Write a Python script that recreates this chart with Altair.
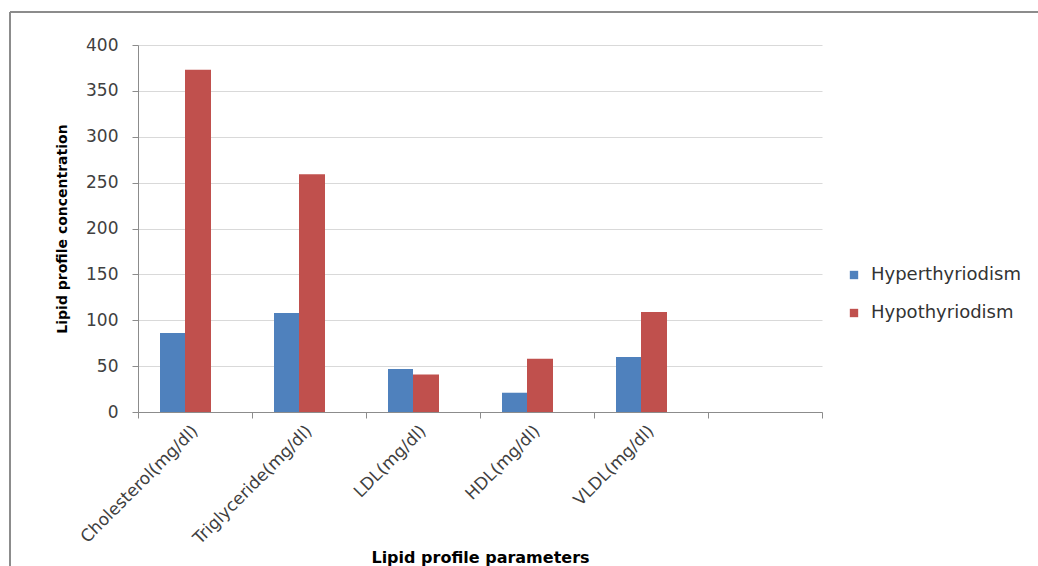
import altair as alt
import pandas as pd

categories = ["Cholesterol(mg/dl)", "Triglyceride(mg/dl)", "LDL(mg/dl)", "HDL(mg/dl)", "VLDL(mg/dl)"]
empty_slot = [" "]
series = ["Hyperthyriodism", "Hypothyriodism"]
hyper = [86, 108, 47, 21, 60]
hypo = [373, 259, 41, 58, 109]
colors = ["#4F81BD", "#C0504D"]
y_ticks = [0, 50, 100, 150, 200, 250, 300, 350, 400]

rows = []
for c, a, b in zip(categories, hyper, hypo):
    rows.append({"Parameter": c, "Group": series[0], "Value": a})
    rows.append({"Parameter": c, "Group": series[1], "Value": b})
df = pd.DataFrame(rows)

FONT = "DejaVu Sans"

x_enc = alt.X("Parameter:N", sort=None,
              scale=alt.Scale(domain=categories + empty_slot, paddingInner=0, paddingOuter=0),
              axis=alt.Axis(title="Lipid profile parameters", labelAngle=-45, labelAlign="right",
                            labelBaseline="middle", labelPadding=10, tickBand="extent",
                            labelFontSize=17, titleFontSize=16,
                            titleY=150, titleBaseline="alphabetic"))
y_enc = alt.Y("Value:Q", scale=alt.Scale(domain=[0, 400], nice=False),
              axis=alt.Axis(title="Lipid profile concentration", values=y_ticks, labelPadding=14,
                            labelFontSize=17, titleFontSize=14,
                            titleX=-76, titleBaseline="middle"))
c_enc = alt.Color("Group:N", scale=alt.Scale(domain=series, range=colors),
                  legend=alt.Legend(title=None, orient="none", legendX=707, legendY=221,
                                    symbolType="square", symbolSize=70, symbolStrokeWidth=0,
                                    labelFontSize=18, labelFont=FONT, labelColor="#333333",
                                    rowPadding=20, labelOffset=8))

base = alt.Chart(df).encode(x=x_enc, y=y_enc, color=c_enc)
bars_hyper = base.transform_filter(alt.datum.Group == series[0]).mark_bar(width=25, xOffset=-22.5)
bars_hypo = base.transform_filter(alt.datum.Group == series[1]).mark_bar(width=26, xOffset=3)

frame_df = pd.DataFrame({"k": [0]})
top_line = alt.Chart(frame_df).mark_rule(color="#8C8C8C", strokeWidth=2).encode(
    x=alt.value(-128), x2=alt.value(900), y=alt.value(-33))
left_line = alt.Chart(frame_df).mark_rule(color="#8C8C8C", strokeWidth=2).encode(
    x=alt.value(-128), y=alt.value(-33), y2=alt.value(521))

chart = alt.layer(bars_hyper, bars_hypo, top_line, left_line).properties(
    width=684, height=367,
    autosize=alt.AutoSizeParams(type="none"),
    padding={"left": 138, "top": 45, "right": 216, "bottom": 154},
    background="white",
).configure_view(stroke=None).configure_axis(
    labelFont=FONT, titleFont=FONT, labelColor="#404040",
    titleFontWeight="bold", titleColor="#000000",
    domainColor="#8C8C8C", tickColor="#8C8C8C", tickSize=6, gridColor="#D9D9D9",
).configure_axisX(grid=False).configure_axisY(grid=True)

chart.save("out.html", embed_options={"renderer": "svg", "actions": False})
